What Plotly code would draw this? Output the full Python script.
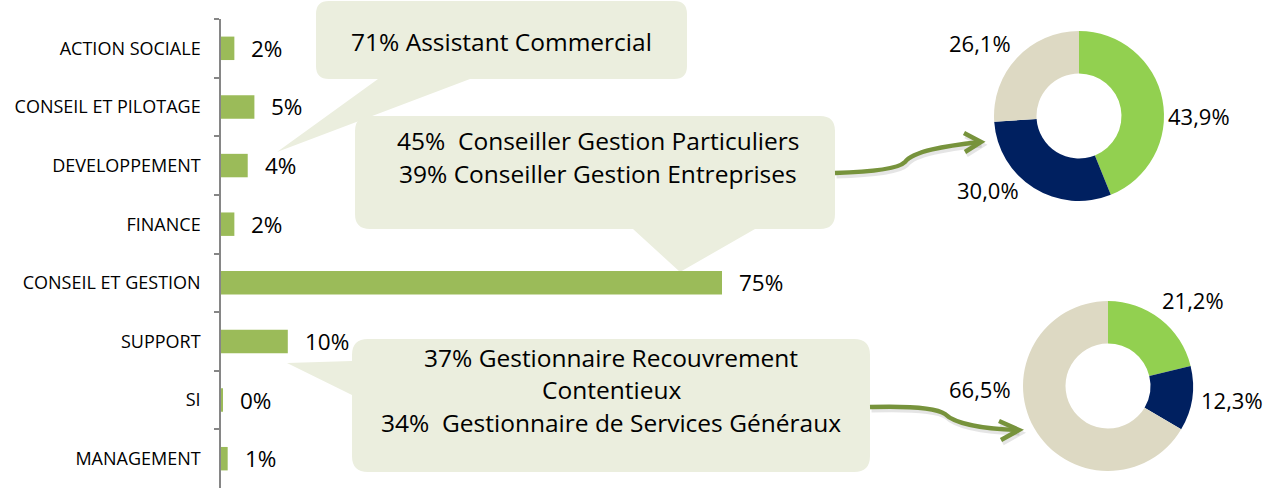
import plotly.graph_objects as go

W, H = 1269, 490

# ---------------- data ----------------
categories = ["ACTION SOCIALE", "CONSEIL ET PILOTAGE", "DEVELOPPEMENT", "FINANCE",
              "CONSEIL ET GESTION", "SUPPORT", "SI", "MANAGEMENT"]
bar_values = [2, 5, 4, 2, 75, 10, 0.3, 1]
bar_labels = ["2%", "5%", "4%", "2%", "75%", "10%", "0%", "1%"]

callout1_lines = ["71% Assistant Commercial"]
callout2_lines = ["45%  Conseiller Gestion Particuliers", "39% Conseiller Gestion Entreprises"]
callout3_lines = ["37% Gestionnaire Recouvrement", "Contentieux", "34%  Gestionnaire de Services Généraux"]

donut1_values = [43.9, 30.0, 26.1]
donut2_values = [21.2, 12.3, 66.5]
donut_colors = ["#92D050", "#002060", "#DDD9C3"]

FONT = "Open Sans"
BAR_COLOR = "#9BBB59"
CALLOUT = "#EBEEDE"
ARROW = "#77933C"


def X(px):
    return px / W


def Y(py):
    return 1 - py / H


def P(px, py):
    return f"{X(px):.5f},{Y(py):.5f}"


fig = go.Figure()

# ---------------- bars ----------------
fig.add_trace(go.Bar(
    y=categories, x=bar_values, orientation="h",
    marker=dict(color=BAR_COLOR, line=dict(width=0)),
    width=0.4, hoverinfo="skip", showlegend=False,
))

annotations = []
for c, v, lab in zip(categories, bar_values, bar_labels):
    annotations.append(dict(x=v, y=c, xref="x", yref="y", text=lab, showarrow=False,
                            xanchor="left", yanchor="middle", xshift=15,
                            font=dict(family=FONT, size=22.5, color="#000000")))

# ---------------- donuts ----------------
def donut_domain(cx, cy, r):
    return dict(x=[X(cx - r), X(cx + r)], y=[Y(cy + r), Y(cy - r)])


fig.add_trace(go.Pie(values=donut1_values, hole=0.5, sort=False, direction="clockwise",
                     rotation=0, marker=dict(colors=donut_colors, line=dict(width=0)),
                     textinfo="none", hoverinfo="skip", showlegend=False,
                     domain=donut_domain(1079, 116, 85)))
fig.add_trace(go.Pie(values=donut2_values, hole=0.5, sort=False, direction="clockwise",
                     rotation=0, marker=dict(colors=donut_colors, line=dict(width=0)),
                     textinfo="none", hoverinfo="skip", showlegend=False,
                     domain=donut_domain(1108, 386, 85)))


def pct(v):
    return f"{v:.1f}".replace(".", ",") + "%"


donut1_label_pos = [(1199, 116), (988, 190), (980, 43)]
donut2_label_pos = [(1193, 300), (1232, 400), (980, 389)]
for vals, poss in ((donut1_values, donut1_label_pos), (donut2_values, donut2_label_pos)):
    for v, (px, py) in zip(vals, poss):
        annotations.append(dict(x=X(px), y=Y(py), xref="paper", yref="paper", text=pct(v),
                                showarrow=False, xanchor="center", yanchor="middle",
                                font=dict(family=FONT, size=22, color="#000000")))

# ---------------- callout texts ----------------
def add_lines(lines, cx, ys):
    for t, py in zip(lines, ys):
        annotations.append(dict(x=X(cx), y=Y(py), xref="paper", yref="paper", text=t,
                                showarrow=False, xanchor="center", yanchor="middle",
                                font=dict(family=FONT, size=24.5, color="#000000")))


add_lines(callout1_lines, 501, [41])
add_lines(callout2_lines, 598, [140, 173])
add_lines(callout3_lines, 611, [357, 389, 422])

# ---------------- callout shapes ----------------
def rounded_rect_path(x0, y0, x1, y1, r, bottom_tail=None, left_tail=None):
    d = [f"M{P(x0 + r, y0)}", f"L{P(x1 - r, y0)}", f"Q{P(x1, y0)} {P(x1, y0 + r)}",
         f"L{P(x1, y1 - r)}", f"Q{P(x1, y1)} {P(x1 - r, y1)}"]
    if bottom_tail:
        xa, xb, tx, ty = bottom_tail
        d += [f"L{P(xb, y1)}", f"L{P(tx, ty)}", f"L{P(xa, y1)}"]
    d += [f"L{P(x0 + r, y1)}", f"Q{P(x0, y1)} {P(x0, y1 - r)}"]
    if left_tail:
        ya, yb, tx, ty = left_tail
        d += [f"L{P(x0, yb)}", f"L{P(tx, ty)}", f"L{P(x0, ya)}"]
    d += [f"L{P(x0, y0 + r)}", f"Q{P(x0, y0)} {P(x0 + r, y0)}", "Z"]
    return " ".join(d)


shapes = []
for path in (
    rounded_rect_path(316, 1, 687, 79, 13, bottom_tail=(378, 470, 277, 152)),
    rounded_rect_path(355, 116, 835, 229, 15, bottom_tail=(633, 755, 680, 272)),
    rounded_rect_path(352, 339, 870, 472, 16, left_tail=(361, 395, 287, 363)),
):
    shapes.append(dict(type="path", path=path, xref="paper", yref="paper",
                       fillcolor=CALLOUT, line=dict(width=0), layer="below"))

# ---------------- arrows ----------------
def arrow_paths(dx=0, dy=0):
    a1 = ("M" + P(835 + dx, 173 + dy) + " C" + P(870 + dx, 172 + dy) + " " + P(898 + dx, 169 + dy)
          + " " + P(905 + dx, 162 + dy) + " C" + P(913 + dx, 151 + dy) + " " + P(945 + dx, 146 + dy)
          + " " + P(980 + dx, 142 + dy))
    h1 = "M" + P(964 + dx, 133 + dy) + " L" + P(981 + dx, 142 + dy) + " L" + P(965 + dx, 152 + dy)
    a2 = ("M" + P(870 + dx, 407 + dy) + " C" + P(905 + dx, 406 + dy) + " " + P(935 + dx, 407 + dy)
          + " " + P(945 + dx, 414 + dy) + " C" + P(955 + dx, 424 + dy) + " " + P(985 + dx, 429 + dy)
          + " " + P(1018 + dx, 430 + dy))
    h2 = "M" + P(999 + dx, 421 + dy) + " L" + P(1019 + dx, 430 + dy) + " L" + P(1001 + dx, 440 + dy)
    return [a1, h1, a2, h2]


for d in arrow_paths(1.5, 3):
    shapes.append(dict(type="path", path=d, xref="paper", yref="paper",
                       line=dict(color="rgba(0,0,0,0.10)", width=5), layer="above"))
for d in arrow_paths():
    shapes.append(dict(type="path", path=d, xref="paper", yref="paper",
                       line=dict(color=ARROW, width=4.5), layer="above"))

fig.update_layout(
    width=W, height=H,
    margin=dict(l=0, r=0, t=0, b=0),
    paper_bgcolor="#FFFFFF", plot_bgcolor="rgba(0,0,0,0)",
    font=dict(family=FONT, color="#000000"),
    xaxis=dict(domain=[X(221), X(221 + 100 * 6.68)], range=[0, 100], visible=False,
               fixedrange=True),
    yaxis=dict(domain=[Y(488), Y(19)], autorange="reversed", type="category",
               showline=True, linecolor="#868686", linewidth=1.5,
               ticks="outside", ticklen=5, tickcolor="#868686", tickwidth=1.5,
               tickson="boundaries", showgrid=False, zeroline=False,
               ticklabelstandoff=15,
               tickfont=dict(family=FONT, size=18, color="#000000")),
    shapes=shapes,
    annotations=annotations,
    showlegend=False,
)

fig.write_html("out.html", config={"displayModeBar": False},
               post_script="document.body.style.margin='0';document.body.style.overflow='hidden';")
